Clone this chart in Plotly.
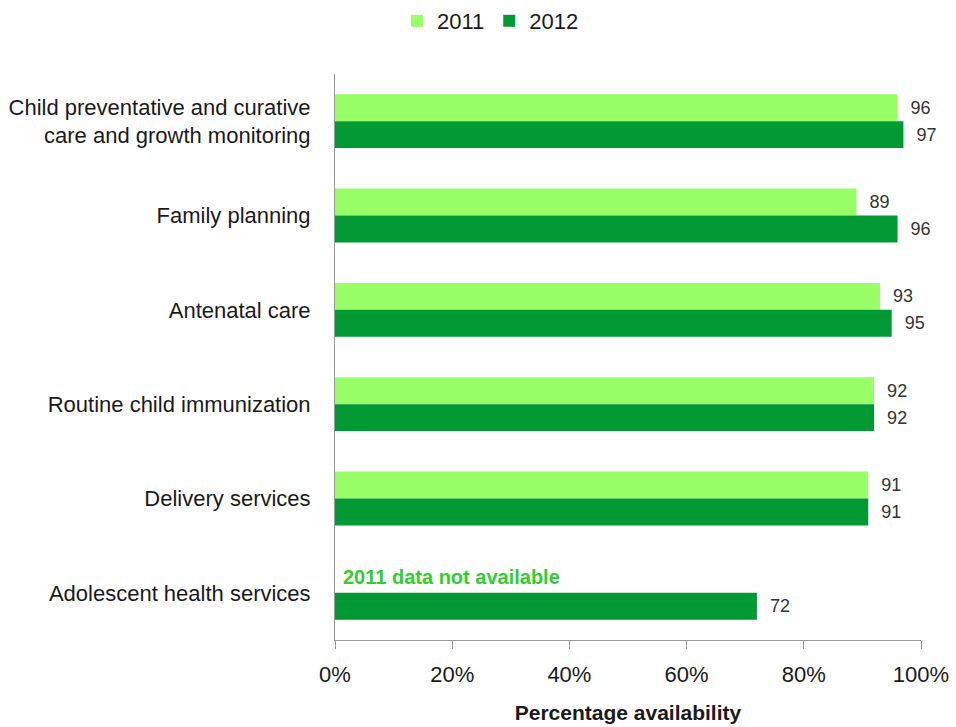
import plotly.graph_objects as go

# Service categories, listed top to bottom
services = [
    "Child preventative and curative<br>care and growth monitoring",
    "Family planning",
    "Antenatal care",
    "Routine child immunization",
    "Delivery services",
    "Adolescent health services",
]
avail_2011 = [96, 89, 93, 92, 91, None]
avail_2012 = [97, 96, 95, 92, 91, 72]

x_ticks = [0, 20, 40, 60, 80, 100]
x_tick_labels = ["0%", "20%", "40%", "60%", "80%", "100%"]

FONT = "Liberation Sans, Arial, sans-serif"
LIGHT = "#99FF66"
DARK = "#009933"


def labels(values):
    return ["  " + str(v) if v is not None else "" for v in values]


fig = go.Figure()
fig.add_trace(go.Bar(
    name="2011", y=services, x=avail_2011, orientation="h",
    marker=dict(color=LIGHT, line=dict(width=0)),
    text=labels(avail_2011), textposition="outside",
    textfont=dict(size=18, color="#333333", family=FONT),
    cliponaxis=False,
))
fig.add_trace(go.Bar(
    name="2012", y=services, x=avail_2012, orientation="h",
    marker=dict(color=DARK, line=dict(width=0)),
    text=labels(avail_2012), textposition="outside",
    textfont=dict(size=18, color="#333333", family=FONT),
    cliponaxis=False,
))

fig.add_annotation(
    x=1, y="Adolescent health services", xref="x", yref="y",
    text="<b>2011 data not available</b>", showarrow=False,
    xanchor="left", yanchor="middle", yshift=16,
    font=dict(size=20, color="#33CC33", family=FONT),
)

fig.update_layout(
    width=956, height=727,
    margin=dict(l=335, r=35, t=74, b=87),
    paper_bgcolor="white", plot_bgcolor="white",
    barmode="group", bargap=0.43, bargroupgap=0,
    font=dict(family=FONT, size=22, color="#1a1a1a"),
    showlegend=True,
    legend=dict(
        orientation="h", x=0.513, xref="container", xanchor="center",
        y=1.0, yref="container", yanchor="top",
        font=dict(size=22, family=FONT, color="#1a1a1a"),
        itemwidth=30, traceorder="normal",
    ),
)

fig.update_xaxes(
    range=[0, 100], tickvals=x_ticks, ticktext=x_tick_labels,
    automargin=False,
    showgrid=False, zeroline=False,
    showline=True, linecolor="#999999", linewidth=1,
    ticks="outside", ticklen=8, tickcolor="#999999",
    ticklabelstandoff=7,
    tickfont=dict(size=22, family=FONT, color="#1a1a1a"),
    title=dict(text="<b>Percentage availability</b>",
               font=dict(size=21, family=FONT, color="#1a1a1a"), standoff=18),
)
fig.update_yaxes(
    autorange="reversed", automargin=False,
    showgrid=False, zeroline=False,
    showline=True, linecolor="#999999", linewidth=1,
    ticks="", ticklabelstandoff=19,
    tickfont=dict(size=22, family=FONT, color="#1a1a1a"),
)

fig.write_html("out.html")
